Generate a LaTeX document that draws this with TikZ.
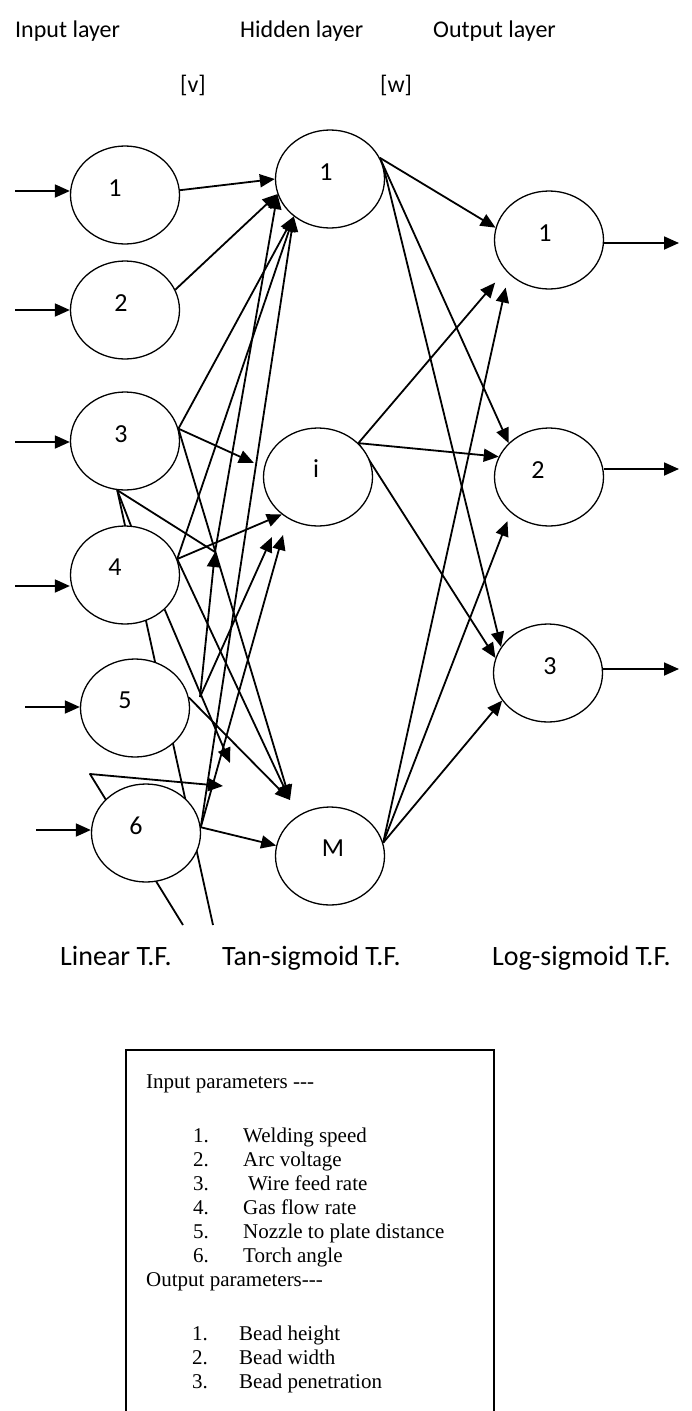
\documentclass[tikz,border=0pt]{standalone}
\usepackage{fontspec}
\setmainfont{Carlito}
\newfontfamily\timesfont{Liberation Serif}
\usetikzlibrary{arrows.meta, shapes.geometric, backgrounds}

\begin{document}
\begin{tikzpicture}[x=1pt, y=-1pt,
        neuron/.style={draw, ellipse, fill=white, line width=1.3pt,
                       minimum width=109pt, minimum height=98pt, inner sep=0pt},
        num/.style={font=\fontsize{26}{26}\selectfont, inner sep=0pt},
        conn/.style={line width=1.8pt, -{Triangle[length=15pt, width=13pt]}},
        plain/.style={line width=1.8pt},
        head/.style={font=\fontsize{24}{24}\selectfont, anchor=base west, inner sep=0pt},
        tf/.style={font=\fontsize{28}{28}\selectfont, anchor=base west, inner sep=0pt},
        item/.style={font=\timesfont\fontsize{21}{21}\selectfont, anchor=base west, inner sep=0pt}]
        \useasboundingbox (0,0) rectangle (691,1411);

        \node[head] (lin) at (15,37) {Input layer};
        \node[head] (lhid) at (240,37) {Hidden layer};
        \node[head] (lout) at (433,37) {Output layer};
        \node[head] (lv) at (180,92) {[v]};
        \node[head] (lw) at (380,92) {[w]};

        \node[neuron, label={[num, xshift=-10pt, yshift=7pt]center:1}] (in1) at (125,195) {};
        \node[neuron, label={[num, xshift=-4pt, yshift=7pt]center:2}] (in2) at (125,310) {};
        \node[neuron, label={[num, xshift=-4pt, yshift=7pt]center:3}] (in3) at (125,441) {};
        \node[neuron, label={[num, xshift=-10pt, yshift=8pt]center:4}] (in4) at (125,575) {};
        \node[neuron, label={[num, xshift=-10pt, yshift=8pt]center:5}] (in5) at (135,708) {};
        \node[neuron, label={[num, xshift=-10pt, yshift=7pt]center:6}] (in6) at (146,833) {};

        \node[neuron, label={[num, xshift=-4pt, yshift=7pt]center:1}] (h1) at (330,179) {};
        \node[neuron, label={[num, xshift=-2pt, yshift=8pt]center:i}] (hi) at (318,477) {};
        \node[neuron, label={[num, xshift=3pt, yshift=8pt]center:M}] (hm) at (330,856) {};

        \node[neuron, label={[num, xshift=-4pt, yshift=7pt]center:1}] (o1) at (549,240) {};
        \node[neuron, label={[num, xshift=-11pt, yshift=7pt]center:2}] (o2) at (549,477) {};
        \node[neuron, label={[num, xshift=2pt, yshift=7pt]center:3}] (o3) at (548,673) {};

        \coordinate (mtip) at (290,800);
        \coordinate (itipA) at (272,537);
        \coordinate (itipB) at (283,535);
        \coordinate (jA) at (215,552);
        \coordinate (jB) at (230,763);
        \coordinate (jC) at (223,786);
        \coordinate (s5) at (200,697);
        \coordinate (bend) at (90,774);
        \coordinate (tfA) at (183,925);
        \coordinate (tfB) at (213,925);

        \begin{scope}[on background layer]
        \foreach \k/\x/\y in {1/15/191, 2/15/310, 3/15/442, 4/15/586, 5/25/707, 6/36/830}
          {\coordinate (src\k) at (\x,\y);
           \draw[conn] (src\k) -- (src\k -| in\k.west);}
        \foreach \k/\y in {1/243, 2/469, 3/669}
          {\coordinate (dst\k) at (679,\y);
           \draw[conn] (dst\k -| o\k.east) -- (dst\k);}

        \draw[conn] (h1.23) -- (o1.167);
        \draw[conn] (h1.23) -- (o2.140);
        \draw[conn] (h1.11) -- (o3.151);
        \draw[conn, shorten >=16pt] (hi.40) -- (o1.215);
        \draw[conn] (hi.40) -- (o2.158);
        \draw[conn] (hi.40) -- (o3.164);
        \draw[conn, shorten >=14pt] (hm.14) -- (o1.220);
        \draw[conn, shorten >=9pt] (hm.14) -- (o2.223);
        \draw[conn] (hm.14) -- (o3.211);

        \draw[conn] (in1.5) -- (h1.180);
        \draw[conn] (in2.22) -- (h1.196);
        \draw[conn] (in3.13) -- (h1.226);
        \draw[conn, shorten >=11pt] (in3.13) -- (hi.170);
        \draw[conn] (in3.13) -- (mtip);
        \draw[conn] (in4.17) -- (h1.226);
        \draw[conn] (in4.17) -- (hi.226);
        \draw[conn] (in4.17) -- (mtip);
        \draw[conn] (in4.-41) -- (jB);
        \draw[conn] (s5) -- (jA);
        \draw[conn] (jA) -- (h1.196);
        \draw[conn] (s5) -- (itipA);
        \draw[conn] (in5.11) -- (mtip);
        \draw[conn] (in6.6) -- (h1.226);
        \draw[conn] (in6.6) -- (itipB);
        \draw[conn] (in6.6) -- (hm.169);
        \draw[plain] (in3.-99) -- (jA);
        \draw[plain] (in3.-99) -- (tfB);
        \draw[plain] (in3.-99) -- ([xshift=25pt]in4.center);
        \draw[conn, line join=round] (tfA) -- (bend) -- (jC);
        \end{scope}

        \node[tf] (tflin) at (60,965) {Linear T.F.};
        \node[tf] (tftan) at (222,965) {Tan-sigmoid T.F.};
        \node[tf] (tflog) at (492,965) {Log-sigmoid T.F.};

        \draw[line width=1.5pt] (126,1411) -- (126,1050) -- (494,1050) -- (494,1411);
        \node[item] (ipar) at (146,1088) {Input parameters ---};
        \foreach \k/\t in {1/Welding speed, 2/Arc voltage, 3/\hspace{5pt}Wire feed rate,
                           4/Gas flow rate, 5/Nozzle to plate distance, 6/Torch angle}
          {\node[item] (inum\k) at (193,1142+24*\k-24) {\k.};
           \node[item] (itxt\k) at (243,1142+24*\k-24) {\t};}
        \node[item] (opar) at (146,1286) {Output parameters---};
        \foreach \k/\t in {1/Bead height, 2/Bead width, 3/Bead penetration}
          {\node[item] (onum\k) at (192,1340+24*\k-24) {\k.};
           \node[item] (otxt\k) at (239,1340+24*\k-24) {\t};}
\end{tikzpicture}
\end{document}
